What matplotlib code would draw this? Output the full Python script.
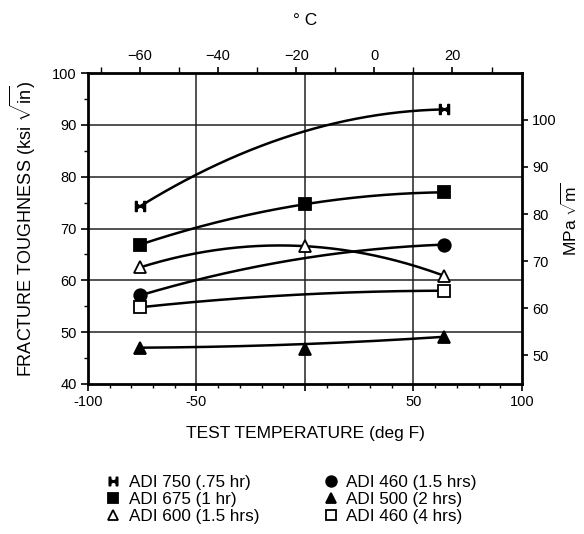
import matplotlib
matplotlib.use("Agg")
import matplotlib.pyplot as plt
import numpy as np
from matplotlib.path import Path
from matplotlib.lines import Line2D

plt.rcParams["font.family"] = ["Liberation Sans", "DejaVu Sans"]
plt.rcParams["mathtext.fontset"] = "custom"
plt.rcParams["mathtext.rm"] = "Liberation Sans"
plt.rcParams["mathtext.it"] = "Liberation Sans"

# ── Data (deg F, ksi sqrt(in)) ────────────────────────────────────────────────
temps_f = [-76, 0, 64]

series = ["ADI 750 (.75 hr)", "ADI 675 (1 hr)", "ADI 600 (1.5 hrs)",
          "ADI 460 (1.5 hrs)", "ADI 500 (2 hrs)", "ADI 460 (4 hrs)"]
# values along each fitted curve at temps_f
curve_750 = [74.3, 88.8, 93.0]
curve_675 = [66.9, 74.7, 77.0]
curve_600 = [62.5, 66.6, 60.9]
curve_460a = [57.1, 64.3, 66.9]
curve_500 = [47.0, 47.7, 49.1]
curve_460b = [54.8, 57.3, 58.0]
# measured points (None = no marker)
pts_750 = [74.3, None, 93.0]
pts_675 = [66.9, 74.7, 77.0]
pts_600 = [62.5, 66.6, 60.9]
pts_460a = [57.1, None, 66.9]
pts_500 = [47.0, 46.7, 49.1]
pts_460b = [54.8, None, 58.0]

curves = [curve_750, curve_675, curve_600, curve_460a, curve_500, curve_460b]
points = [pts_750, pts_675, pts_600, pts_460a, pts_500, pts_460b]

# bowtie with end bars
bowtie = Path([(-1, -1), (-0.7, -1), (-0.7, -0.45), (0, 0), (0.7, -0.45), (0.7, -1),
               (1, -1), (1, 1), (0.7, 1), (0.7, 0.45), (0, 0), (-0.7, 0.45),
               (-0.7, 1), (-1, 1), (-1, -1)],
              [Path.MOVETO] + [Path.LINETO] * 13 + [Path.CLOSEPOLY])
styles = [
    dict(marker=bowtie, mfc="black", ms=7),
    dict(marker="s", mfc="black", ms=8),
    dict(marker="^", mfc="white", ms=9),
    dict(marker="o", mfc="black", ms=9),
    dict(marker="^", mfc="black", ms=8),
    dict(marker="s", mfc="white", ms=9),
]

fig = plt.figure(figsize=(5.84, 5.34), dpi=100)
ax = fig.add_axes([0.1507, 0.281, 0.743, 0.582])

ax.set_xlim(-100, 100)
ax.set_ylim(40, 100)

for xg in [-50, 0, 50]:
    ax.axvline(xg, color="#222222", lw=1.1, zorder=1)
for yg in [50, 60, 70, 80, 90]:
    ax.axhline(yg, color="#222222", lw=1.1, zorder=1)

xs = np.linspace(temps_f[0], temps_f[-1], 200)
for cv, pt, st in zip(curves, points, styles):
    coef = np.polyfit(temps_f, cv, 2)
    ax.plot(xs, np.polyval(coef, xs), color="black", lw=1.8, zorder=2)
    px = [t for t, v in zip(temps_f, pt) if v is not None]
    py = [v for v in pt if v is not None]
    ax.plot(px, py, ls="none", color="black", mec="black", mew=1.3, zorder=3, **st)

ax.set_xticks([-100, -50, 0, 50, 100])
ax.set_xticklabels(["-100", "-50", "", "50", "100"])
ax.set_xticks(np.arange(-100, 101, 10), minor=True)
ax.set_yticks([40, 50, 60, 70, 80, 90, 100])
ax.set_yticks(np.arange(40, 101, 5), minor=True)
ax.tick_params(axis="both", which="major", direction="out", length=5, width=1.2,
               labelsize=10.5, pad=3)
ax.tick_params(axis="both", which="minor", direction="out", length=3, width=1.0)
for s in ax.spines.values():
    s.set_linewidth(2.0)

ax.set_xlabel("TEST TEMPERATURE (deg F)", fontsize=12.5, labelpad=12)
ax.set_ylabel(r"FRACTURE TOUGHNESS (ksi $\sqrt{\mathrm{in}}$)", fontsize=13, labelpad=10)

# top axis in deg C
c_to_f = lambda c: c * 9 / 5 + 32
f_to_c = lambda f: (f - 32) * 5 / 9
top = ax.secondary_xaxis("top", functions=(f_to_c, c_to_f))
top.set_xticks([-60, -40, -20, 0, 20])
top.set_xticks(np.arange(-70, 31, 10), minor=True)
top.tick_params(which="major", direction="out", length=4, width=1.2, labelsize=10.5)
top.tick_params(which="minor", direction="out", length=4, width=1.0)
top.set_xlabel("° C", fontsize=12.5, labelpad=17)

# right axis in MPa sqrt(m)
k = 1.0988
right = ax.secondary_yaxis("right", functions=(lambda v: v * k, lambda v: v / k))
right.set_yticks([50, 60, 70, 80, 90, 100])
right.tick_params(direction="out", length=4, width=1.2, labelsize=10.5)
fig.text(0.975, 0.59, r"MPa $\sqrt{\mathrm{m}}$", rotation=90, fontsize=12.5,
         ha="center", va="center")

handles = [Line2D([0], [0], ls="none", color="black", mec="black", mew=1.3, **st)
           for st in styles]
for h in handles:
    h.set_markersize(h.get_markersize() * 0.85)
fig.legend(handles, series, ncol=2, loc="upper left", bbox_to_anchor=(0.168, 0.123),
           frameon=False, fontsize=12.3, handlelength=1.0, handletextpad=0.4,
           columnspacing=3.7, labelspacing=0.12, borderaxespad=0)

fig.savefig("out.png", dpi=100)
